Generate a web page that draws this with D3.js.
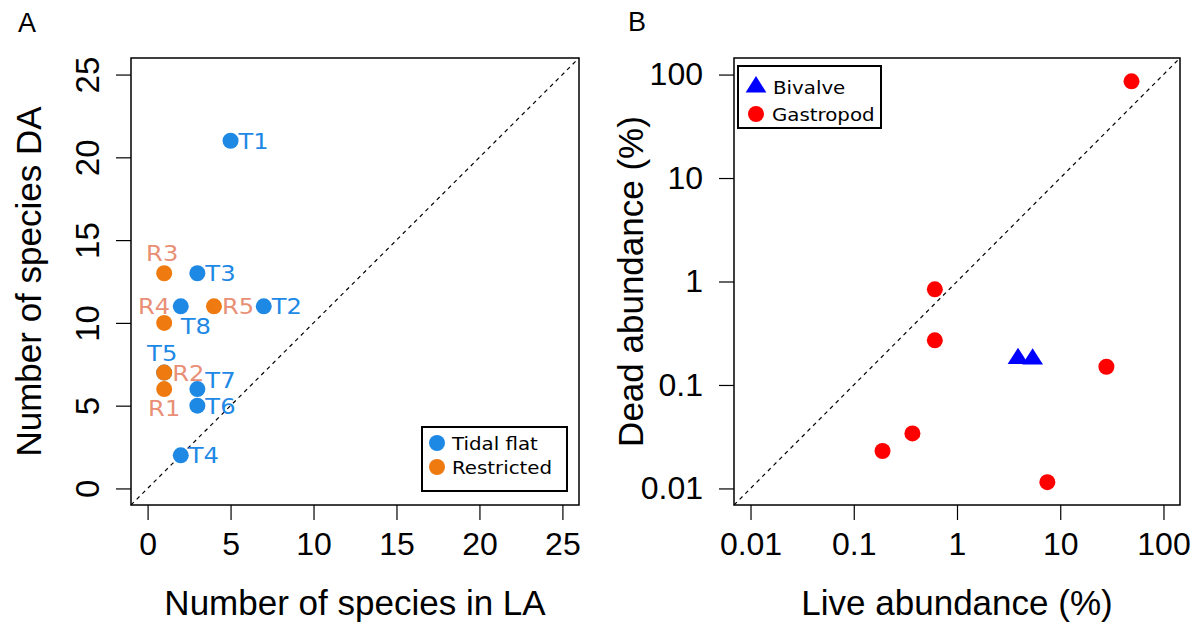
<!DOCTYPE html>
<html>
<head>
<meta charset="utf-8">
<script src="https://cdn.jsdelivr.net/npm/d3@7"></script>
<style>
  html, body { margin: 0; padding: 0; background: #fff; }
  svg { display: block; }
</style>
</head>
<body>
<svg id="chart" width="1203" height="626"></svg>
<script>
// ---------------- DATA ----------------
// Panel A: number of species in live (LA) vs dead (DA) assemblages
const tidalNames = ["T1", "T2", "T3", "T4", "T5", "T6", "T7", "T8"];
const tidalLA    = [5, 7, 3, 2, 1, 3, 3, 2];
const tidalDA    = [21, 11, 13, 2, 7, 5, 6, 11];
const tidalLabelPos = ["e", "e", "e", "e", "n", "e", "ne", "se"];

const restrNames = ["R1", "R2", "R3", "R4", "R5"];
const restrLA    = [1, 1, 1, 1, 4];
const restrDA    = [6, 7, 13, 10, 11];
const restrLabelPos = ["s", "e", "n", "nw", "e"];

const ticksA = [0, 5, 10, 15, 20, 25];
const legendA = ["Tidal flat", "Restricted"];

// Panel B: live vs dead abundance (%)
const bivalveLive = [3.9, 5.4];
const bivalveDead = [0.18, 0.178];
const gastroLive  = [49, 0.61, 0.61, 28, 0.37, 0.19, 7.5];
const gastroDead  = [86, 0.84, 0.27, 0.15, 0.034, 0.023, 0.0115];

const ticksB = [0.01, 0.1, 1, 10, 100];
const tickLabelsB = ["0.01", "0.1", "1", "10", "100"];
const legendB = ["Bivalve", "Gastropod"];

// ---------------- STYLE ----------------
const C_BLUE = "#1e88e5", C_ORANGE = "#ef7b10", C_ORANGE_TXT = "#e98f76";
const C_RED = "#ff0000", C_BV = "#0000ff";
const AX_FONT = "'Liberation Sans', Arial, sans-serif";
const LB_FONT = "'DejaVu Sans', Verdana, sans-serif";
const SX = 1.1; // horizontal stretch for the small label fonts

const svg = d3.select("#chart");

function addText(g, x, y, str, opts) {
  const sx = opts.sx || 1;
  return g.append("text")
    .attr("transform", `translate(${x},${y}) scale(${sx},1)` + (opts.rotate ? " rotate(-90)" : ""))
    .attr("font-family", opts.font || AX_FONT)
    .attr("font-size", opts.size)
    .attr("text-anchor", opts.anchor || "start")
    .attr("fill", opts.fill || "#000")
    .text(str);
}

// ---------------- PANEL A ----------------
const A = { l: 131, r: 579, t: 58, b: 505 };
const xA = d3.scaleLinear().domain([-1, 26]).range([A.l, A.r]);
const yA = d3.scaleLinear().domain([-1, 26]).range([A.b, A.t]);
const gA = svg.append("g");

gA.append("line")
  .attr("x1", xA(-1)).attr("y1", yA(-1)).attr("x2", xA(26)).attr("y2", yA(26))
  .attr("stroke", "#000").attr("stroke-width", 1.2).attr("stroke-dasharray", "4,4");

const axAx = gA.append("g").attr("transform", `translate(0,${A.b})`)
  .call(d3.axisBottom(xA).tickValues(ticksA).tickSize(15).tickPadding(12).tickFormat(d3.format("d")));
const axAy = gA.append("g").attr("transform", `translate(${A.l},0)`)
  .call(d3.axisLeft(yA).tickValues(ticksA).tickSize(15).tickFormat(d3.format("d")));

// ---------------- PANEL B ----------------
const B = { l: 734, r: 1180, t: 58, b: 505 };
const lo = Math.pow(10, -2.16), hi = Math.pow(10, 2.16);
const xB = d3.scaleLog().domain([lo, hi]).range([B.l, B.r]);
const yB = d3.scaleLog().domain([lo, hi]).range([B.b, B.t]);
const gB = svg.append("g");

gB.append("line")
  .attr("x1", xB(lo)).attr("y1", yB(lo)).attr("x2", xB(hi)).attr("y2", yB(hi))
  .attr("stroke", "#000").attr("stroke-width", 1.2).attr("stroke-dasharray", "4,4");

const axBx = gB.append("g").attr("transform", `translate(0,${B.b})`)
  .call(d3.axisBottom(xB).tickValues(ticksB).tickSize(15).tickPadding(12)
    .tickFormat((d, i) => tickLabelsB[i]));
const axBy = gB.append("g").attr("transform", `translate(${B.l},0)`)
  .call(d3.axisLeft(yB).tickValues(ticksB).tickSize(15).tickPadding(16)
    .tickFormat((d, i) => tickLabelsB[i]));

[axAx, axAy, axBx, axBy].forEach(ax => {
  ax.select(".domain").remove();
  ax.selectAll(".tick line").attr("stroke", "#000").attr("stroke-width", 1.2);
  ax.selectAll("text").attr("font-family", AX_FONT).attr("font-size", 32).attr("fill", "#000");
});
// A y labels: rotated (parallel to axis)
axAy.selectAll("text")
  .attr("x", null).attr("dy", null).attr("text-anchor", "middle").attr("font-size", 33)
  .attr("transform", "translate(-32,0) rotate(-90)");

// plot boxes
[A, B].forEach(p => svg.append("rect")
  .attr("x", p.l).attr("y", p.t).attr("width", p.r - p.l).attr("height", p.b - p.t)
  .attr("fill", "none").attr("stroke", "#000").attr("stroke-width", 1.5));

// ---------------- POINTS A ----------------
const R_PT = 8;
const tidal = tidalNames.map((n, i) => ({ n, x: tidalLA[i], y: tidalDA[i], pos: tidalLabelPos[i] }));
const restr = restrNames.map((n, i) => ({ n, x: restrLA[i], y: restrDA[i], pos: restrLabelPos[i] }));

gA.selectAll("circle.t").data(tidal).join("circle").attr("class", "t")
  .attr("cx", d => xA(d.x)).attr("cy", d => yA(d.y)).attr("r", R_PT).attr("fill", C_BLUE);
gA.selectAll("circle.r").data(restr).join("circle").attr("class", "r")
  .attr("cx", d => xA(d.x)).attr("cy", d => yA(d.y)).attr("r", R_PT).attr("fill", C_ORANGE);

const OFF = {
  e:  { dx: 8,  dy: 8,   a: "start" },
  ne: { dx: 8,  dy: -1,  a: "start" },
  n:  { dx: -2, dy: -12, a: "middle" },
  s:  { dx: 0,  dy: 27,  a: "middle" },
  nw: { dx: 6,  dy: -9,  a: "end" },
  se: { dx: 0,  dy: 28,  a: "start" }
};
function drawLabels(data, color) {
  data.forEach(d => {
    const o = OFF[d.pos];
    addText(gA, xA(d.x) + o.dx, yA(d.y) + o.dy, d.n,
      { size: 22, font: LB_FONT, anchor: o.a, fill: color, sx: SX });
  });
}
drawLabels(tidal, C_BLUE);
drawLabels(restr, C_ORANGE_TXT);

// legend A
const lgA = gA.append("g");
lgA.append("rect").attr("x", 422).attr("y", 427).attr("width", 145).attr("height", 64)
  .attr("fill", "#fff").attr("stroke", "#000").attr("stroke-width", 2);
[C_BLUE, C_ORANGE].forEach((c, i) => {
  const cy = 443 + i * 24;
  lgA.append("circle").attr("cx", 437).attr("cy", cy).attr("r", 8).attr("fill", c);
  addText(lgA, 452, cy + 7, legendA[i], { size: 18, font: LB_FONT, sx: SX });
});

// ---------------- POINTS B ----------------
const triangle = d3.symbol().type(d3.symbolTriangle).size(155);
const biv = bivalveLive.map((v, i) => ({ x: v, y: bivalveDead[i] }));
const gas = gastroLive.map((v, i) => ({ x: v, y: gastroDead[i] }));

gB.selectAll("circle.g").data(gas).join("circle").attr("class", "g")
  .attr("cx", d => xB(d.x)).attr("cy", d => yB(d.y)).attr("r", R_PT).attr("fill", C_RED);
gB.selectAll("path.b").data(biv).join("path").attr("class", "b")
  .attr("transform", d => `translate(${xB(d.x)},${yB(d.y)}) scale(${SX},1)`)
  .attr("d", triangle).attr("fill", C_BV);

// legend B
const lgB = gB.append("g");
lgB.append("rect").attr("x", 738).attr("y", 66).attr("width", 143).attr("height", 62)
  .attr("fill", "#fff").attr("stroke", "#000").attr("stroke-width", 2);
lgB.append("path").attr("transform", `translate(756,87) scale(${SX},1)`)
  .attr("d", triangle).attr("fill", C_BV);
addText(lgB, 773, 94, legendB[0], { size: 18, font: LB_FONT, sx: SX });
lgB.append("circle").attr("cx", 756).attr("cy", 114).attr("r", 8).attr("fill", C_RED);
addText(lgB, 772, 121, legendB[1], { size: 18, font: LB_FONT, sx: SX });

// ---------------- TITLES ----------------
addText(svg, (A.l + A.r) / 2, 615, "Number of species in LA", { size: 35, anchor: "middle" });
addText(svg, 41, (A.t + A.b) / 2, "Number of species DA", { size: 35, anchor: "middle", rotate: true });
addText(svg, (B.l + B.r) / 2, 615, "Live abundance (%)", { size: 35, anchor: "middle" });
addText(svg, 643, (B.t + B.b) / 2, "Dead abundance (%)", { size: 35, anchor: "middle", rotate: true });

addText(svg, 18, 32, "A", { size: 27 });
addText(svg, 628, 31, "B", { size: 27 });
</script>
</body>
</html>
